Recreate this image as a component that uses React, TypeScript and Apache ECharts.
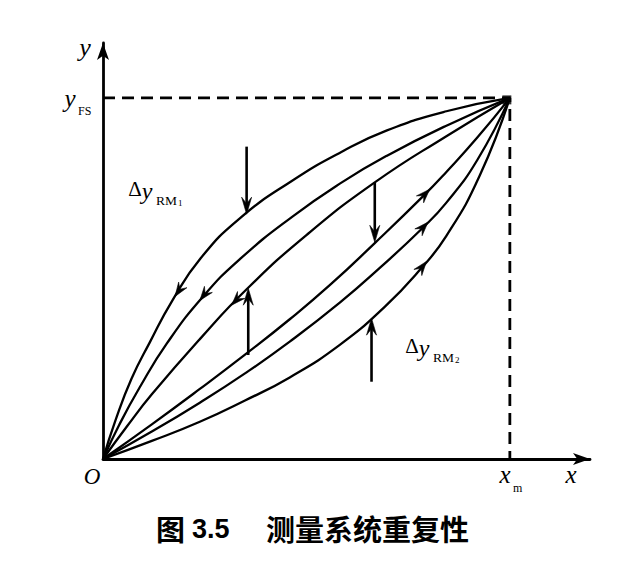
import React, { useEffect, useRef } from "react";
import * as echarts from "echarts";

// Reverse-stroke curves (arrows point toward the origin)
const upper1 = [[0, 0], [3, 10.5], [7, 22.2], [11.5, 32.3], [17, 43.8], [24, 55.6], [33.7, 66.7], [46.4, 77.0], [58.7, 85.1], [69.8, 91.0], [84.4, 96.3], [100, 100]];
const upper2 = [[0, 0], [4, 9.5], [9, 19.8], [15.7, 32.0], [24.6, 45.0], [33.7, 55.4], [46.4, 67.0], [58.7, 76.6], [69.8, 84.0], [84.4, 92.3], [100, 100]];
const upper3 = [[0, 0], [6, 9.2], [12, 17.9], [23.8, 33.2], [35.3, 47.0], [50, 62.0], [66.8, 76.6], [84.4, 89.4], [100, 100]];
// Forward-stroke curves (arrows point away from the origin)
const lower1 = [[0, 0], [12, 9.6], [23.8, 19.4], [34.9, 28.9], [45.9, 38.7], [55.8, 48.2], [66.8, 59.8], [78.7, 72.8], [84.4, 79.5], [92, 89.0], [100, 100]];
const lower2 = [[0, 0], [12, 7.6], [23.8, 15.6], [34.9, 23.7], [45.9, 32.5], [58.2, 43.3], [68.1, 53.0], [78.3, 63.7], [84.4, 71.0], [92, 82.8], [100, 100]];
const lower3 = [[0, 0], [12, 5.0], [23.8, 10.3], [34.9, 16.2], [45.9, 22.6], [58.2, 31.6], [69.3, 42.2], [77.9, 52.4], [84.4, 61.8], [92.6, 78.5], [100, 100]];

const curves = [upper1, upper2, upper3, lower1, lower2, lower3];

// Full-scale reference lines: y_FS and x_m
const fullScale = [[0, 100], [100, 100], [100, 0]];
// Meeting point of all strokes at full scale
const fullScalePoint = [[100, 100]];

// Direction arrowheads on curves: [x, y, curve index, direction (+1 forward, -1 backward)]
const curveArrows = [
  [17.7, 45.0, 0, -1],
  [23.8, 43.9, 1, -1],
  [31.6, 42.6, 2, -1],
  [80.3, 74.7, 3, 1],
  [79.9, 65.6, 4, 1],
  [79.5, 54.7, 5, 1],
];

// Repeatability markers: [x, y start, y end (arrow tip)]
const deltaArrows = [
  [35.3, 86.5, 67.8],
  [35.7, 28.8, 47.3],
  [66.8, 76.6, 60.0],
  [66.0, 21.4, 39.0],
];

const X_MAX = 119.7;
const Y_MAX = 115.2;

function headPoints(tip: number[], ux: number, uy: number, L: number, W: number) {
  const bx = tip[0] - ux * L;
  const by = tip[1] - uy * L;
  const nx = -uy;
  const ny = ux;
  return [
    [tip[0], tip[1]],
    [bx + nx * W, by + ny * W],
    [tip[0] - ux * L * 0.62, tip[1] - uy * L * 0.62],
    [bx - nx * W, by - ny * W],
  ];
}

const serif = '"Liberation Serif", "Times New Roman", serif';
const cjk = '"Noto Sans CJK SC", sans-serif';

function txt(text: string, x: number, y: number, font: string, align = "center", vAlign = "middle") {
  return {
    type: "text",
    x,
    y,
    silent: true,
    style: { text, font, fill: "#000", align, verticalAlign: vAlign, textAlign: align, textVerticalAlign: vAlign },
  };
}

export default function App() {
  const ref = useRef<HTMLDivElement>(null);
  useEffect(() => {
    const chart = echarts.init(ref.current as HTMLDivElement, null, { renderer: "svg" });
    const lineSeries = curves.map((c, i) => ({
      type: "line",
      name: "curve" + i,
      data: c,
      smooth: 0.5,
      symbol: "none",
      silent: true,
      lineStyle: { color: "#000", width: 2.3 },
      z: 3,
    }));
    const option: any = {
      animation: false,
      backgroundColor: "#fff",
      grid: { left: 103, right: 38, top: 43, bottom: 113, containLabel: false, outerBoundsMode: "none" },
      xAxis: {
        type: "value",
        min: 0,
        max: X_MAX,
        axisLine: {
          show: true,
          onZero: false,
          symbol: ["none", "arrow"],
          symbolSize: [9, 17],
          lineStyle: { color: "#000", width: 2.8 },
        },
        axisTick: { show: false },
        axisLabel: { show: false },
        splitLine: { show: false },
      },
      yAxis: {
        type: "value",
        min: 0,
        max: Y_MAX,
        axisLine: {
          show: true,
          onZero: false,
          symbol: ["none", "arrow"],
          symbolSize: [9, 17],
          lineStyle: { color: "#000", width: 2.8 },
        },
        axisTick: { show: false },
        axisLabel: { show: false },
        splitLine: { show: false },
      },
      series: [
        {
          type: "line",
          name: "fullscale",
          data: fullScale,
          symbol: "none",
          silent: true,
          lineStyle: { color: "#000", width: 2.8, type: [12, 7] },
          z: 2,
        },
        {
          type: "scatter",
          name: "fullscalePoint",
          data: fullScalePoint,
          symbol: "rect",
          symbolSize: 9,
          symbolOffset: [-3, 2],
          silent: true,
          itemStyle: { color: "#000" },
          z: 5,
        },
        ...lineSeries,
        {
          type: "custom",
          name: "curveArrows",
          coordinateSystem: "cartesian2d",
          silent: true,
          clip: false,
          z: 4,
          data: curveArrows,
          encode: { x: 0, y: 1 },
          renderItem: (params: any, api: any) => {
            const x = api.value(0);
            const y = api.value(1);
            const ci = api.value(2);
            const dir = api.value(3);
            const c = curves[ci];
            let k = 0;
            for (let i = 0; i < c.length - 1; i++) {
              if (c[i][0] <= x && x <= c[i + 1][0]) {
                k = i;
                break;
              }
            }
            const p0 = api.coord(c[k]);
            const p1 = api.coord(c[k + 1]);
            let ux = p1[0] - p0[0];
            let uy = p1[1] - p0[1];
            const len = Math.hypot(ux, uy) || 1;
            ux = (ux / len) * dir;
            uy = (uy / len) * dir;
            const tip = api.coord([x, y]);
            return {
              type: "polygon",
              shape: { points: headPoints(tip, ux, uy, 14, 5) },
              style: { fill: "#000", stroke: "#000", lineWidth: 0.6 },
            };
          },
        },
        {
          type: "custom",
          name: "deltaArrows",
          coordinateSystem: "cartesian2d",
          silent: true,
          clip: false,
          z: 4,
          data: deltaArrows,
          encode: { x: 0, y: 1 },
          renderItem: (params: any, api: any) => {
            const x = api.value(0);
            const y0 = api.value(1);
            const y1 = api.value(2);
            const a = api.coord([x, y0]);
            const b = api.coord([x, y1]);
            const dy = b[1] > a[1] ? 1 : -1;
            return {
              type: "group",
              children: [
                {
                  type: "line",
                  shape: { x1: a[0], y1: a[1], x2: b[0], y2: b[1] - dy * 8 },
                  style: { stroke: "#000", lineWidth: 2.6 },
                },
                {
                  type: "polygon",
                  shape: { points: headPoints(b, 0, dy, 17, 5) },
                  style: { fill: "#000", stroke: "#000", lineWidth: 0.6 },
                },
              ],
            };
          },
        },
      ],
      graphic: [
        txt("y", 85, 47, `italic 26px ${serif}`),
        txt("y", 70, 98, `italic 25px ${serif}`),
        txt("FS", 78, 111, `12px ${serif}`, "left"),
        txt("O", 92, 476, `italic 23px ${serif}`),
        txt("x", 571, 474, `italic 25px ${serif}`),
        txt("x", 505, 474, `italic 25px ${serif}`),
        txt("m", 513, 488, `12px ${serif}`, "left"),
        txt("Δ", 135, 189, `21px ${serif}`),
        txt("y", 147, 191, `italic 24px ${serif}`),
        txt("RM", 156, 200, `13.5px ${serif}`, "left"),
        txt("1", 178, 203, `9px ${serif}`, "left"),
        txt("Δ", 412, 346, `21px ${serif}`),
        txt("y", 424, 348, `italic 24px ${serif}`),
        txt("RM", 433, 357, `13.5px ${serif}`, "left"),
        txt("2", 455, 360, `9px ${serif}`, "left"),
        txt("图", 156, 528, `bold 29px ${cjk}`, "left"),
        txt("3.5", 192, 529, `bold 27px "Liberation Sans", sans-serif`, "left"),
        txt("测量系统重复性", 266, 528, `bold 29px ${cjk}`, "left"),
      ],
    };
    chart.setOption(option);
    return () => chart.dispose();
  }, []);
  return (
    <div
      ref={ref}
      style={{ position: "fixed", left: 0, top: 0, width: 628, height: 572, background: "#fff" }}
    />
  );
}
